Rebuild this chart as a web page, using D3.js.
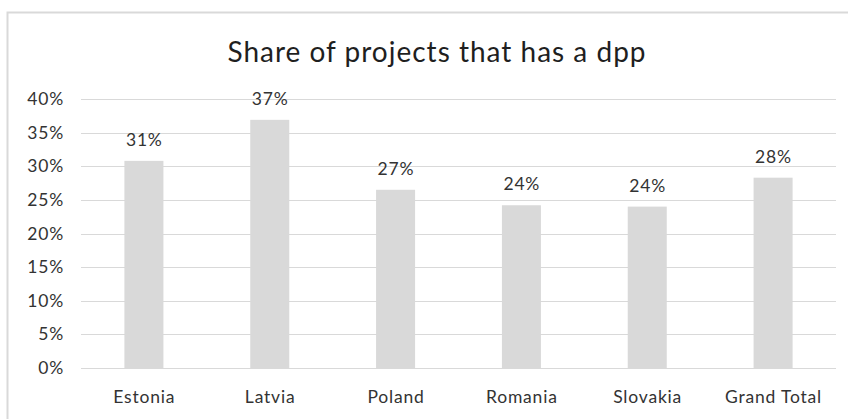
<!DOCTYPE html>
<html>
<head>
<meta charset="utf-8">
<script src="https://cdn.jsdelivr.net/npm/d3@7"></script>
<style>
  html, body { margin: 0; padding: 0; background: #ffffff; }
  svg { display: block; font-family: Lato, "Open Sans", sans-serif; }
</style>
</head>
<body>
<svg id="chart" width="848" height="419"></svg>
<script>
// Share of projects with a DPP, by country
const categories = ["Estonia", "Latvia", "Poland", "Romania", "Slovakia", "Grand Total"];
const shares = [0.308, 0.369, 0.265, 0.242, 0.240, 0.283];
const yTicks = [0, 0.05, 0.10, 0.15, 0.20, 0.25, 0.30, 0.35, 0.40];
const title = "Share of projects that has a dpp";

const W = 848, H = 419;
const margin = { left: 81, right: 12, top: 99, bottom: 51 };
const labelSize = "17.5px";
const labelSpacing = "0.8px";
const svg = d3.select("#chart");

// chart frame (open on the right and bottom edges)
svg.append("rect")
  .attr("x", 7.5).attr("y", 12.5)
  .attr("width", W + 10).attr("height", H + 10)
  .attr("fill", "#ffffff")
  .attr("stroke", "#d9d9d9")
  .attr("stroke-width", 2);

const x = d3.scaleBand()
  .domain(categories)
  .range([margin.left, W - margin.right])
  .paddingInner(0.69)
  .paddingOuter(0.345);

const y = d3.scaleLinear()
  .domain([0, 0.4])
  .range([H - margin.bottom, margin.top]);

const pct = d3.format(".0%");

// horizontal gridlines
svg.append("g")
  .selectAll("line")
  .data(yTicks)
  .join("line")
  .attr("x1", margin.left).attr("x2", W - margin.right)
  .attr("y1", d => Math.round(y(d)) + 0.5)
  .attr("y2", d => Math.round(y(d)) + 0.5)
  .attr("stroke", "#d9d9d9")
  .attr("stroke-width", 1);

// y axis labels
const yAxis = d3.axisLeft(y)
  .tickValues(yTicks)
  .tickFormat(pct)
  .tickSize(0)
  .tickPadding(17);
const gy = svg.append("g")
  .attr("transform", `translate(${margin.left},0)`)
  .call(yAxis);
gy.select(".domain").remove();
gy.selectAll("text")
  .attr("fill", "#333333")
  .style("font-size", labelSize)
  .style("letter-spacing", labelSpacing)
  .style("font-family", "Lato, 'Open Sans', sans-serif");

// bars
svg.append("g")
  .selectAll("rect")
  .data(categories)
  .join("rect")
  .attr("x", d => x(d))
  .attr("width", x.bandwidth())
  .attr("y", (d, i) => y(shares[i]))
  .attr("height", (d, i) => y(0) - y(shares[i]))
  .attr("fill", "#d9d9d9");

// value labels
svg.append("g")
  .selectAll("text")
  .data(categories)
  .join("text")
  .attr("x", d => x(d) + x.bandwidth() / 2 + 0.4)
  .attr("y", (d, i) => y(shares[i]) - 15)
  .attr("text-anchor", "middle")
  .attr("fill", "#333333")
  .style("font-size", labelSize)
  .style("letter-spacing", labelSpacing)
  .text((d, i) => pct(shares[i]));

// category axis labels
const xAxis = d3.axisBottom(x).tickSize(0).tickPadding(22.5);
const gx = svg.append("g")
  .attr("transform", `translate(0.4,${y(0)})`)
  .call(xAxis);
gx.select(".domain").remove();
gx.selectAll("text")
  .attr("fill", "#333333")
  .style("font-size", labelSize)
  .style("letter-spacing", labelSpacing)
  .style("font-family", "Lato, 'Open Sans', sans-serif");

// title
svg.append("text")
  .attr("x", 437)
  .attr("y", 62)
  .attr("text-anchor", "middle")
  .attr("fill", "#1f1f1f")
  .style("font-size", "28px")
  .style("letter-spacing", "1px")
  .text(title);
</script>
</body>
</html>
